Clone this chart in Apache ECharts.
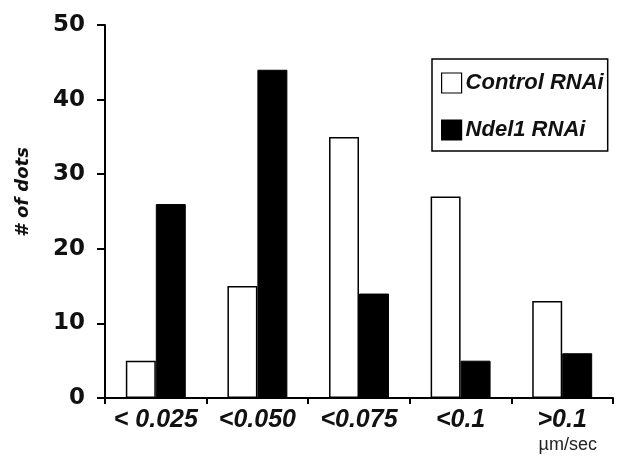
<!DOCTYPE html>
<html><head><meta charset="utf-8">
<script src="https://cdn.jsdelivr.net/npm/echarts@6/dist/echarts.min.js"></script>
<style>html,body{margin:0;padding:0;background:#fff}#c{width:618px;height:456px}</style>
</head><body><div id="c"></div>
<script>
const categories = ['< 0.025', '<0.050', '<0.075', '<0.1', '>0.1'];
const controlValues = [5, 15, 35, 27, 13];
const ndel1Values = [26, 44, 14, 5, 6];
const yTicks = [0, 10, 20, 30, 40, 50];

const chart = echarts.init(document.getElementById('c'));
chart.setOption({
  animation: false,
  backgroundColor: '#fff',
  grid: {left: 105, right: 5, top: 25, bottom: 58},
  legend: {
    orient: 'vertical', left: 432, top: 59,
    padding: [13, 4, 10, 9],
    itemGap: 25,
    itemWidth: 20, itemHeight: 20,
    borderColor: '#000', borderWidth: 1.5,
    textStyle: {fontFamily: 'Liberation Sans', fontWeight: 'bold', fontStyle: 'italic', fontSize: 22, color: '#111', padding: [0,0,0,-1]},
    data: [
      {name: 'Control RNAi', icon: 'rect', itemStyle: {color: '#fff', borderColor: '#000', borderWidth: 1.2}},
      {name: 'Ndel1 RNAi', icon: 'rect', itemStyle: {color: '#000', borderColor: '#000', borderWidth: 1.2}}
    ]
  },
  xAxis: {
    type: 'category', data: categories,
    axisLine: {lineStyle: {color: '#000', width: 2}},
    axisTick: {show: true, interval: 0, length: 6, lineStyle: {color: '#000', width: 2}},
    axisLabel: {interval: 0, fontFamily: 'Liberation Sans', fontWeight: 'bold', fontStyle: 'italic', fontSize: 25, color: '#111', margin: 10},
    name: 'µm/sec', nameLocation: 'end', nameGap: 0,
    nameTextStyle: {fontFamily: 'Liberation Sans', fontSize: 18, color: '#222', align: 'right', verticalAlign: 'top', padding: [38, 16, 0, 0]}
  },
  yAxis: {
    type: 'value', min: 0, max: 50, interval: 10,
    axisLine: {show: true, lineStyle: {color: '#000', width: 2}},
    axisTick: {show: true, length: 8, lineStyle: {color: '#000', width: 2}},
    splitLine: {show: false},
    axisLabel: {fontFamily: 'DejaVu Sans', fontWeight: 'bold', fontSize: 23, color: '#111', margin: 20,
      formatter: v => yTicks.includes(v) ? String(v) : ''}
  },
  graphic: [{
    type: 'text', x: 23, y: 192, rotation: Math.PI / 2,
    style: {text: '# of dots', fontFamily: 'DejaVu Sans', fontWeight: 'bold', fontStyle: 'italic', fontSize: 18, fill: '#111', align: 'center', verticalAlign: 'middle'}
  }],
  series: [
    {name: 'Control RNAi', type: 'bar', data: controlValues, barGap: '0%', barCategoryGap: '41%',
     itemStyle: {color: '#fff', borderColor: '#000', borderWidth: 1.5}},
    {name: 'Ndel1 RNAi', type: 'bar', data: ndel1Values,
     itemStyle: {color: '#000', borderColor: '#000', borderWidth: 1}}
  ]
});
</script></body></html>
